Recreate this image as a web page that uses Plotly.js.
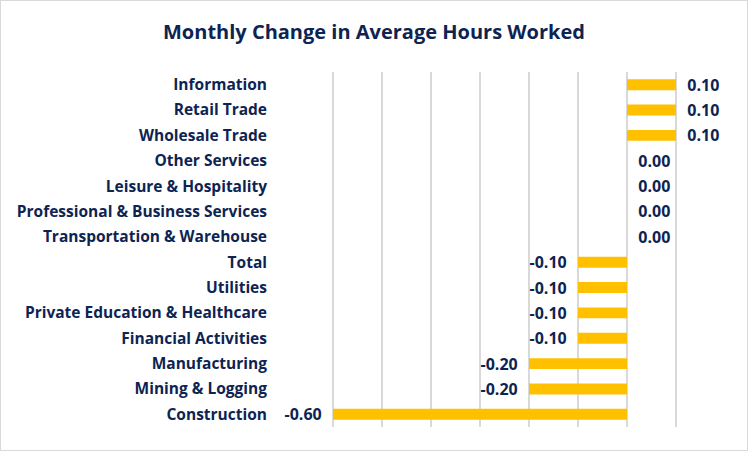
<!DOCTYPE html>
<html>
<head>
<meta charset="utf-8">
<script src="https://cdn.plot.ly/plotly-3.0.1.min.js"></script>
<style>
html,body{margin:0;padding:0;background:#fff;}
#chart{width:748px;height:451px;box-sizing:border-box;border:1px solid #d9d9d9;}
</style>
</head>
<body>
<div id="chart"></div>
<script>
const categories = [
  "Information",
  "Retail Trade",
  "Wholesale Trade",
  "Other Services",
  "Leisure & Hospitality",
  "Professional & Business Services",
  "Transportation & Warehouse",
  "Total",
  "Utilities",
  "Private Education & Healthcare",
  "Financial Activities",
  "Manufacturing",
  "Mining & Logging",
  "Construction"
];
const values = [0.10, 0.10, 0.10, 0.00, 0.00, 0.00, 0.00, -0.10, -0.10, -0.10, -0.10, -0.20, -0.20, -0.60];

const navy = "#0d2452";
const gold = "#ffc000";
const fontFam = "'Open Sans', 'Noto Sans', sans-serif";
const pad = "\u00a0\u00a0";

const trace = {
  type: "bar",
  orientation: "h",
  y: categories,
  x: values,
  marker: {color: gold},
  text: values.map(v => v < 0 ? v.toFixed(2) + pad : pad + v.toFixed(2)),
  textposition: "outside",
  textfont: {family: fontFam, size: 16, color: navy, weight: 700},
  constraintext: "none",
  cliponaxis: false,
  hoverinfo: "none"
};

const layout = {
  width: 746,
  height: 449,
  margin: {l: 283, r: 22, t: 71, b: 23},
  paper_bgcolor: "#fff",
  plot_bgcolor: "#fff",
  bargap: 0.57,
  showlegend: false,
  title: {
    text: "Monthly Change in Average Hours Worked",
    x: 0.5,
    xref: "container",
    xanchor: "center",
    y: 0.932,
    yref: "container",
    yanchor: "middle",
    font: {family: fontFam, size: 20, color: navy, weight: 700}
  },
  xaxis: {
    range: [-0.7, 0.2],
    dtick: 0.1,
    tick0: 0,
    showgrid: true,
    gridcolor: "#d9d9d9",
    gridwidth: 1.5,
    zeroline: false,
    showticklabels: false,
    showline: false,
    fixedrange: true
  },
  yaxis: {
    type: "category",
    autorange: "reversed",
    showgrid: false,
    zeroline: false,
    showline: false,
    ticks: "",
    ticklabelstandoff: 16,
    tickfont: {family: fontFam, size: 15.5, color: navy, weight: 700},
    fixedrange: true
  }
};

Plotly.newPlot("chart", [trace], layout, {displayModeBar: false, staticPlot: true});
</script>
</body>
</html>
